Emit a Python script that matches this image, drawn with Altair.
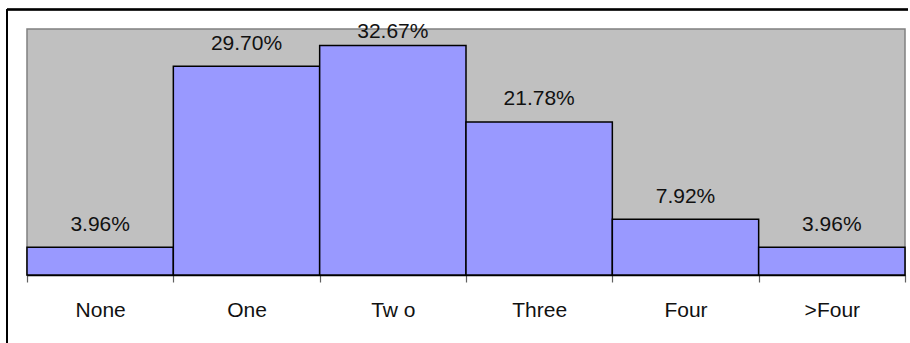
import altair as alt
import pandas as pd

# Share of respondents by count category
categories = ["None", "One", "Tw o", "Three", "Four", ">Four"]
percentages = [3.96, 29.70, 32.67, 21.78, 7.92, 3.96]

df = pd.DataFrame({"cat": categories, "pct": percentages})

FONT = "Liberation Sans"

x_enc = alt.X(
    "cat:N",
    sort=categories,
    scale=alt.Scale(paddingInner=0, paddingOuter=0),
    axis=alt.Axis(
        title=None,
        labelAngle=0,
        tickBand="extent",
        tickSize=7,
        tickColor="#606060",
        tickWidth=1.2,
        domainColor="#000000",
        domainWidth=1.5,
        labelFont=FONT,
        labelFontSize=21,
        labelColor="#111111",
        labelBaseline="alphabetic",
        labelPadding=34.5,
        grid=False,
    ),
)
y_scale = alt.Scale(domain=[0, 35], nice=False, zero=True)

bars = alt.Chart(df).mark_bar(
    fill="#9999FF", stroke="#000000", strokeWidth=1.5
).encode(
    x=x_enc,
    y=alt.Y("pct:Q", scale=y_scale, axis=None),
)

labels = alt.Chart(df).transform_calculate(
    label="format(datum.pct, '.2f') + '%'",
    pos="min(datum.pct + 2.35, 33.72)",
).mark_text(
    baseline="alphabetic", align="center", font=FONT, fontSize=21, color="#111111"
).encode(
    x=alt.X("cat:N", sort=categories),
    y=alt.Y("pos:Q", scale=y_scale, axis=None),
    text="label:N",
)

# Outer frame lines (top and left)
frame_top = alt.Chart(df).mark_rule(color="#000000", strokeWidth=1.5).encode(
    x=alt.value(-20), x2=alt.value(881), y=alt.value(-19.5)
)
frame_left = alt.Chart(df).mark_rule(color="#000000", strokeWidth=1.5).encode(
    x=alt.value(-20), y=alt.value(-19.5), y2=alt.value(314)
)

chart = alt.layer(bars, labels, frame_top, frame_left).properties(
    width=878,
    height=246,
    autosize=alt.AutoSizeParams(type="none"),
    padding={"left": 27, "top": 29, "right": 5, "bottom": 68},
    background="#FFFFFF",
).configure_view(
    fill="#C0C0C0", stroke="#808080", strokeWidth=1.5
)

chart.save("out.html", embed_options={"renderer": "svg", "actions": False})
